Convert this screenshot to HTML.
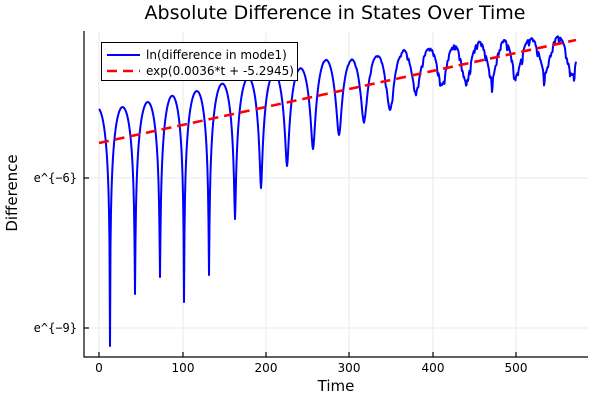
<!DOCTYPE html>
<html><head><style>
body{margin:0;background:#fff}
svg{display:block}
text{font-family:"DejaVu Sans","Liberation Sans",sans-serif;fill:#000}
</style></head><body>
<svg id="s" width="600" height="400" viewBox="0 0 600 400" xmlns="http://www.w3.org/2000/svg">
<rect width="600" height="400" fill="#fff"/>
<g stroke="#e8e8e8" stroke-width="1">
<line x1="99" y1="31" x2="99" y2="357"/><line x1="183" y1="31" x2="183" y2="357"/>
<line x1="266" y1="31" x2="266" y2="357"/><line x1="349" y1="31" x2="349" y2="357"/>
<line x1="433" y1="31" x2="433" y2="357"/><line x1="516" y1="31" x2="516" y2="357"/>
<line x1="84" y1="178" x2="588" y2="178"/><line x1="84" y1="328" x2="588" y2="328"/>
</g>
<path id="blue" fill="none" stroke="#0000ff" stroke-width="2" stroke-linejoin="round"/>
<line x1="99" y1="143" x2="576" y2="40" stroke="#ff0000" stroke-width="2.6" stroke-dasharray="10,6"/>
<g stroke="#000" stroke-width="1.2">
<line x1="84" y1="31" x2="84" y2="357.5"/><line x1="83.5" y1="357" x2="588" y2="357"/>
<line x1="99" y1="357" x2="99" y2="352"/><line x1="183" y1="357" x2="183" y2="352"/>
<line x1="266" y1="357" x2="266" y2="352"/><line x1="349" y1="357" x2="349" y2="352"/>
<line x1="433" y1="357" x2="433" y2="352"/><line x1="516" y1="357" x2="516" y2="352"/>
<line x1="84" y1="178" x2="89" y2="178"/><line x1="84" y1="328" x2="89" y2="328"/>
</g>
<g font-size="12" text-anchor="middle">
<text x="99" y="372">0</text><text x="183" y="372">100</text><text x="266" y="372">200</text>
<text x="349" y="372">300</text><text x="433" y="372">400</text><text x="516" y="372">500</text>
</g>
<g font-size="12" text-anchor="end">
<text x="77" y="182" style="font-family:'DejaVu Sans Mono','Liberation Mono',monospace">e^{−6}</text>
<text x="77" y="332" style="font-family:'DejaVu Sans Mono','Liberation Mono',monospace">e^{−9}</text>
</g>
<text x="336" y="391" font-size="15" text-anchor="middle">Time</text>
<text transform="translate(17,193) rotate(-90)" font-size="15" text-anchor="middle">Difference</text>
<text x="335" y="19" font-size="19" text-anchor="middle">Absolute Difference in States Over Time</text>
<rect x="101.5" y="42.5" width="196" height="38" fill="#fff" stroke="#000" stroke-width="1"/>
<line x1="107" y1="55" x2="140" y2="55" stroke="#0000ff" stroke-width="2"/>
<line x1="107" y1="71" x2="140" y2="71" stroke="#ff0000" stroke-width="2.6" stroke-dasharray="10,6"/>
<text x="146" y="59" font-size="12">ln(difference in mode1)</text>
<text x="146" y="75" font-size="12">exp(0.0036*t + -5.2945)</text>
</svg>
<script>
var pk=[[99,108],[124,107],[148,102],[171,96],[197,91],[221,84],[248,78],[273,74],[298,70],[323,61],[349,62],[376,58],[402,55],[426,54],[453,52],[478,48],[505,47],[531,45],[555,43],[580,42]];
var dp=[[85,330],[110,346],[135,294],[160,277],[184,302],[209,275],[235,219],[261,188],[287,166],[313,149],[339,135],[364,121],[390,110],[416,91],[442,85],[466,82],[492,79],[516,75],[545,73],[572,75],[600,75]];
function interp(a,x){for(var i=0;i<a.length-1;i++){if(x<=a[i+1][0]){var t=(x-a[i][0])/(a[i+1][0]-a[i][0]);return a[i][1]+t*(a[i+1][1]-a[i][1]);}}return a[a.length-1][1];}
var d="";
for(var x=99;x<=576;x+=0.5){
 var i=0;while(i<dp.length-2&&dp[i+1][0]<=x)i++;
 var x0=dp[i][0],x1=dp[i+1][0];var t=(x-x0)/(x1-x0);
 var near=t<0.5?dp[i]:dp[i+1];
 var P=interp(pk,x);
 var eps=Math.exp(-(near[1]-P)/50);
 var s=Math.sin(Math.PI*t);
 var y=P-50*Math.log(Math.sqrt(s*s+eps*eps));
 if(x>330){var a=Math.min(1,(x-330)/150);
  var n=Math.sin(x*1.7)+Math.sin(x*2.9+1)+Math.sin(x*0.83+2);
  y+=a*Math.max(0,n)*5*(1-s*0.5);}
 y=Math.min(y,350);
 d+=(d?"L":"M")+x.toFixed(1)+","+y.toFixed(1);
}
document.getElementById("blue").setAttribute("d",d);
</script>
</body></html>
